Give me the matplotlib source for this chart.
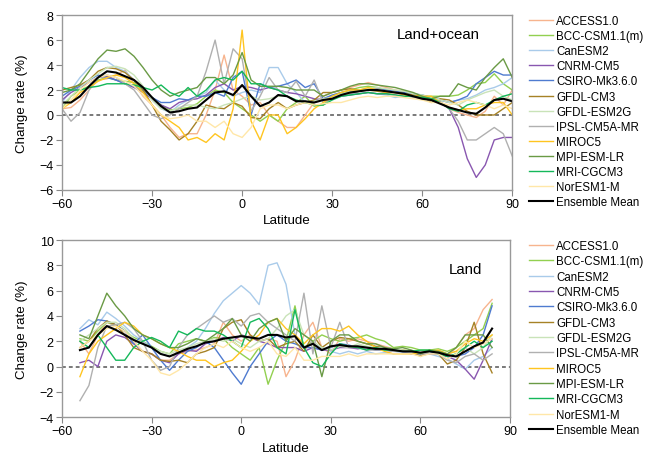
"""
Zonal change rate of each CMIP5 model, land+ocean and land only.
"""

import matplotlib.pyplot as plt
import numpy as np

plt.rcParams['font.family'] = ['Liberation Sans', 'DejaVu Sans']

models = ['ACCESS1.0', 'BCC-CSM1.1(m)', 'CanESM2', 'CNRM-CM5', 'CSIRO-Mk3.6.0',
          'GFDL-CM3', 'GFDL-ESM2G', 'IPSL-CM5A-MR', 'MIROC5', 'MPI-ESM-LR',
          'MRI-CGCM3', 'NorESM1-M']
colors = ['#F7B48E', '#92D050', '#A9CBEA', '#8957B0', '#4F7BD0', '#A68226',
          '#C9E3B8', '#B0B0B0', '#FFC520', '#6A9A45', '#14B85A', '#FFE7A8']

# latitudes, 3 degree steps
lat_lo = np.arange(-60, 91, 3)
lat_land = np.arange(-54, 85, 3)

# ---- land+ocean ----
lo = {
    'ACCESS1.0': [0.5, 0.6, 1.2, 2.0, 2.8, 2.9, 3.2, 3.6, 2.5, 1.5, 0.8, 0.0, -1.0, -1.8, -1.5, -1.5, 0.0, 2.0, 4.8, 2.0, 1.5, 0.8, 1.0, 0.0, -0.5, -1.0, -1.0, 0.0, 1.0, 1.5, 1.8, 2.0, 2.2, 2.4, 2.6, 2.4, 2.2, 2.0, 1.9, 1.6, 1.4, 1.2, 1.0, 0.5, 0.2, 0.0, -0.2, 0.3, 1.5, 0.8, 2.0],
    'BCC-CSM1.1(m)': [0.5, 1.5, 2.0, 2.3, 2.8, 3.0, 2.8, 2.7, 2.6, 2.0, 1.4, 0.8, 0.4, 0.5, 0.6, 0.9, 1.5, 2.0, 1.8, 1.0, 0.5, 0.0, -0.5, 0.0, -0.5, 0.5, 1.0, 1.5, 0.7, 0.8, 1.5, 1.8, 2.0, 2.2, 2.3, 2.2, 2.0, 1.9, 1.8, 1.7, 1.5, 1.5, 1.5, 1.5, 1.6, 2.0, 2.5, 2.6, 3.3, 2.5, 2.0],
    'CanESM2': [1.0, 2.0, 3.0, 3.8, 4.3, 4.3, 3.8, 3.5, 2.8, 2.0, 1.2, 0.5, 0.2, 0.8, 1.2, 1.5, 1.8, 2.8, 2.0, 1.5, 1.8, 2.0, 1.8, 3.8, 3.8, 2.5, 1.8, 1.0, 1.2, 1.3, 1.5, 1.6, 1.7, 1.7, 1.8, 1.7, 1.6, 1.4, 1.5, 1.5, 1.3, 1.3, 1.2, 1.0, 1.2, 1.3, 1.6, 2.0, 2.2, 2.5, 3.0],
    'CNRM-CM5': [1.2, 1.8, 2.2, 2.6, 3.0, 3.1, 2.8, 2.5, 2.2, 1.8, 1.3, 0.8, 0.5, 1.0, 1.2, 1.3, 1.6, 2.2, 2.5, 2.0, 2.3, 2.2, 2.0, 2.2, 2.0, 1.8, 1.7, 1.5, 1.3, 1.2, 1.4, 1.5, 1.6, 1.7, 1.8, 1.7, 1.7, 1.6, 1.5, 1.5, 1.4, 1.3, 1.0, 0.5, -1.0, -3.5, -5.0, -4.0, -2.0, -1.8, -1.8],
    'CSIRO-Mk3.6.0': [1.5, 2.0, 2.3, 2.8, 3.2, 3.0, 2.8, 2.5, 2.3, 1.9, 1.4, 1.0, 1.0, 1.3, 1.2, 1.5, 1.5, 1.8, 1.5, 3.0, 3.5, 0.0, 2.5, 2.2, 2.3, 2.5, 2.8, 2.2, 2.5, 1.3, 1.6, 1.8, 1.9, 2.0, 2.0, 2.1, 2.0, 1.9, 1.8, 1.7, 1.6, 1.4, 1.2, 1.0, 1.2, 1.5, 2.5, 3.0, 3.5, 3.2, 3.2],
    'GFDL-CM3': [2.0, 2.2, 2.4, 2.8, 3.5, 3.8, 3.7, 3.4, 2.8, 2.0, 0.8, -0.5, -1.2, -2.0, -1.5, -0.5, 0.8, 0.6, 0.5, 1.0, 0.7, -0.2, -0.3, 0.5, 1.0, 0.5, 0.8, 1.0, 1.2, 1.8, 1.8, 2.0, 2.1, 2.0, 2.0, 1.9, 1.8, 1.8, 1.7, 1.6, 1.5, 1.0, 1.3, 1.2, 0.8, 0.3, 0.0, 0.0, 0.0, 0.5, 1.0],
    'GFDL-ESM2G': [0.8, 1.5, 2.2, 2.8, 3.3, 3.8, 3.9, 3.7, 3.2, 2.3, 1.2, 0.5, 0.3, 0.6, 0.8, 0.8, 0.6, 0.5, 0.8, 1.0, 1.3, 1.5, 1.2, 1.3, 1.5, 1.5, 1.2, 1.0, 1.1, 1.3, 1.4, 1.7, 1.9, 2.0, 2.1, 2.2, 2.1, 2.0, 1.9, 1.7, 1.6, 1.4, 1.2, 1.0, 0.8, 1.2, 1.5, 1.8, 2.0, 1.5, 1.2],
    'IPSL-CM5A-MR': [0.5, -0.5, 0.2, 2.0, 3.0, 3.2, 3.0, 2.5, 2.0, 1.0, 0.0, -0.3, 0.0, 0.5, 1.0, 1.5, 3.5, 6.0, 2.5, 5.3, 4.5, 0.3, 1.5, 3.0, 2.0, 1.8, 2.7, 1.5, 2.8, 1.0, 1.3, 1.5, 1.7, 1.9, 2.0, 2.1, 1.9, 1.8, 1.6, 1.4, 1.3, 1.2, 1.1, 0.5, -0.5, -2.0, -2.0, -1.5, -1.0, -1.5, -3.3],
    'MIROC5': [0.5, 1.0, 1.8, 2.2, 2.7, 3.0, 3.2, 3.0, 2.5, 1.8, 0.8, 0.0, -0.5, -1.0, -2.0, -1.8, -2.2, -1.5, -2.0, 0.5, 6.8, -0.5, -2.0, 0.0, 0.0, -1.5, -1.0, -0.3, 0.5, 1.0, 1.5, 1.8, 2.0, 2.0, 2.2, 2.0, 1.8, 1.8, 1.6, 1.5, 1.5, 1.5, 1.0, 0.6, 0.4, 0.5, 0.5, 0.8, 1.0, 1.0, 0.0],
    'MPI-ESM-LR': [1.8, 2.0, 2.5, 3.5, 4.5, 5.2, 5.1, 5.3, 4.7, 3.8, 2.8, 2.0, 1.5, 1.8, 2.0, 2.2, 3.0, 3.0, 2.5, 3.2, 5.0, 2.8, 2.3, 2.3, 2.3, 2.2, 2.0, 2.0, 2.0, 1.5, 1.8, 2.0, 2.3, 2.5, 2.5, 2.4, 2.3, 2.2, 2.0, 1.8, 1.5, 1.3, 1.5, 1.5, 2.5, 2.2, 2.0, 3.0, 3.8, 4.5, 3.0],
    'MRI-CGCM3': [2.2, 2.0, 2.0, 2.2, 2.3, 2.5, 2.5, 2.5, 2.4, 2.2, 2.0, 2.4, 1.8, 1.5, 2.2, 1.5, 2.0, 2.8, 3.0, 2.8, 3.5, 2.5, 2.5, 2.2, 2.0, 1.5, 1.2, 1.0, 0.8, 0.8, 1.2, 1.5, 1.6, 1.7, 1.8, 1.7, 1.7, 1.6, 1.5, 1.5, 1.4, 1.3, 1.0, 0.5, 0.3, 0.8, 1.0, 0.8, 1.2, 1.5, 1.7],
    'NorESM1-M': [0.5, 1.2, 2.0, 2.6, 3.0, 3.2, 3.0, 2.7, 2.3, 1.6, 0.8, 0.0, -0.3, -0.2, 0.0, -0.5, -0.5, -1.0, -0.5, -1.5, -1.8, -1.0, 0.5, 0.8, 0.8, 0.5, 0.8, 1.0, 0.8, 0.9, 1.0, 1.0, 1.2, 1.4, 1.5, 1.4, 1.5, 1.5, 1.4, 1.3, 1.2, 1.0, 1.0, 0.8, 1.0, 1.2, 1.0, 0.8, 0.5, 0.8, 0.5],
}
mean_lo = [1.0, 1.0, 1.5, 2.3, 3.0, 3.5, 3.4, 3.1, 2.8, 2.2, 1.4, 0.7, 0.2, 0.3, 0.5, 0.6, 1.2, 1.8, 1.9, 1.6, 2.4, 1.5, 0.7, 1.0, 1.6, 1.5, 1.1, 1.1, 1.0, 1.2, 1.3, 1.6, 1.8, 1.9, 2.0, 2.0, 1.9, 1.8, 1.7, 1.5, 1.3, 1.2, 0.9, 0.6, 0.4, 0.2, 0.1, 0.6, 1.2, 1.3, 1.1]

# ---- land only ----
land = {
    'ACCESS1.0': [2.0, 1.0, 2.5, 3.5, 3.2, 2.8, 2.0, 1.2, 1.0, 0.5, 0.5, 1.0, 1.2, 1.3, 1.5, 1.8, 3.5, 2.5, 2.0, 2.5, 2.0, 2.2, 2.0, -0.8, 0.5, 2.5, 3.5, 1.5, 1.0, 2.2, 2.0, 2.2, 2.0, 1.8, 1.6, 1.4, 1.3, 1.2, 1.0, 1.3, 1.2, 0.8, 1.5, 2.5, 3.0, 4.5, 5.3],
    'BCC-CSM1.1(m)': [2.2, 2.0, 2.8, 3.5, 3.3, 2.8, 2.3, 2.0, 1.6, 1.2, 1.0, 1.8, 2.0, 2.2, 2.0, 2.3, 2.2, 1.5, 1.0, 0.5, 1.5, -1.4, 0.5, 2.0, 4.8, 1.5, 2.0, 2.5, 2.2, 2.0, 2.2, 2.3, 2.5, 2.2, 2.0, 1.5, 1.6, 1.5, 1.3, 1.3, 1.4, 1.2, 1.5, 2.0, 2.5, 3.0, 5.0],
    'CanESM2': [3.0, 3.7, 3.3, 4.3, 3.8, 3.2, 2.5, 2.0, 1.5, 1.0, 0.8, 1.0, 1.5, 2.0, 3.0, 4.2, 5.2, 5.8, 6.4, 5.8, 4.9, 8.0, 8.2, 6.5, 2.5, 1.5, 1.8, 1.5, 1.2, 1.0, 1.2, 1.0, 1.2, 1.0, 1.1, 1.0, 1.1, 1.0, 0.9, 1.0, 0.8, 0.6, 0.2, -0.2, 0.5, 0.8, 1.5],
    'CNRM-CM5': [0.3, 0.5, 0.0, 2.0, 2.5, 2.3, 1.8, 1.2, 1.0, 0.5, 0.3, 1.0, 1.3, 1.2, 1.8, 2.0, 2.3, 2.0, 2.5, 2.3, 2.0, 1.8, 1.5, 1.5, 1.5, 1.2, 1.5, 1.3, 1.3, 1.5, 1.5, 1.4, 1.5, 1.3, 1.3, 1.2, 1.2, 1.0, 0.9, 1.0, 1.0, 0.8, 0.5, -0.2, -1.0, 0.5, 2.2],
    'CSIRO-Mk3.6.0': [2.8, 3.2, 3.7, 3.6, 3.3, 2.8, 1.8, 2.5, 1.5, 0.5, -0.3, 0.5, 1.2, 1.5, 2.0, 1.5, 0.5, -0.5, -1.4, 0.0, 1.0, 2.0, 2.5, 2.0, 1.8, 1.5, 1.5, 1.3, 1.5, 1.8, 1.7, 1.5, 1.5, 1.3, 1.3, 1.3, 1.2, 1.1, 1.0, 1.2, 1.0, 0.8, 0.8, 1.0, 1.5, 2.5, 4.8],
    'GFDL-CM3': [1.5, 2.0, 3.0, 3.6, 3.3, 2.5, 1.5, 1.2, 1.0, 0.5, 0.4, 0.5, 0.3, 1.0, 1.2, 1.5, 3.0, 3.5, 3.7, 2.5, 2.0, 2.2, 1.5, 1.8, 2.0, 1.2, 2.5, 1.5, 2.0, 2.3, 2.2, 2.0, 1.8, 1.6, 1.5, 1.2, 1.3, 1.2, 0.8, 1.3, 1.0, 0.2, 0.5, 1.5, 3.5, 1.0, -0.5],
    'GFDL-ESM2G': [2.0, 2.5, 3.0, 3.5, 3.5, 3.0, 2.2, 1.8, 1.5, 1.2, 1.0, 1.3, 1.5, 1.8, 2.0, 2.2, 2.0, 2.2, 1.8, 1.5, 2.0, 2.2, 3.0, 4.0, 4.5, 2.5, 2.0, 1.5, 1.3, 1.6, 1.5, 1.8, 1.6, 1.5, 1.5, 1.4, 1.3, 1.2, 1.0, 1.2, 1.3, 1.0, 1.2, 1.5, 1.0, 1.5, 2.5],
    'IPSL-CM5A-MR': [-2.7, -1.5, 1.5, 3.2, 3.3, 3.5, 3.0, 2.0, 0.5, -0.3, 0.0, 1.5, 2.5, 3.0, 3.5, 4.0, 3.5, 3.8, 3.2, 4.0, 4.2, 3.5, 3.0, 2.5, 2.0, 5.8, 1.0, 4.8, 1.5, 3.5, 1.5, 1.5, 1.3, 1.3, 1.3, 1.2, 1.2, 1.1, 1.0, 1.0, 1.0, 0.5, 0.3, 0.8, 1.0, 0.5, 1.0],
    'MIROC5': [-0.8, 1.0, 2.0, 2.5, 3.0, 3.5, 3.2, 2.5, 2.2, 1.8, 1.5, 1.2, 0.8, 0.5, 0.5, 0.0, 0.3, 0.5, 1.2, 2.0, 2.5, 3.5, 3.8, 3.0, 2.5, 1.8, 2.5, 3.0, 3.0, 2.8, 3.2, 2.5, 2.0, 1.5, 1.2, 1.0, 1.0, 1.0, 1.1, 1.2, 1.3, 1.0, 1.2, 1.8, 2.2, 2.0, 2.5],
    'MPI-ESM-LR': [2.5, 2.2, 4.0, 5.8, 4.8, 4.0, 3.0, 2.5, 2.2, 1.8, 1.5, 1.5, 1.8, 2.2, 2.0, 2.5, 3.0, 3.8, 2.5, 2.0, 3.0, 3.5, 3.8, 2.0, 3.0, 2.5, 2.0, -0.8, 2.0, 2.5, 2.5, 2.0, 1.8, 1.8, 1.5, 1.4, 1.5, 1.3, 1.0, 1.3, 1.2, 1.0, 1.5, 2.5, 2.5, 2.5, 1.5],
    'MRI-CGCM3': [2.0, 1.5, 2.5, 1.5, 0.5, 0.5, 1.5, 2.0, 2.3, 2.0, 1.5, 2.8, 2.5, 3.0, 2.8, 2.8, 2.5, 2.0, 1.5, 3.5, 3.8, 3.0, 1.5, 1.0, 4.5, 1.5, 0.3, 0.0, 1.0, 1.8, 1.6, 1.5, 1.3, 1.5, 1.3, 1.3, 1.2, 1.2, 1.3, 1.3, 1.0, 0.8, 1.0, 1.5, 2.0, 1.5, 2.0],
    'NorESM1-M': [1.5, 2.0, 2.5, 3.0, 3.2, 2.8, 2.0, 1.2, 0.5, -0.5, -0.7, -0.3, 0.3, 1.0, 1.5, 1.8, 1.5, 2.0, 1.5, 1.2, 1.5, 2.0, 1.0, 0.8, 1.5, 0.5, 0.5, 0.8, 0.8, 0.8, 1.0, 0.8, 1.0, 1.0, 1.0, 1.0, 1.0, 1.0, 0.8, 1.0, 1.0, 0.6, 1.0, 2.0, 1.5, 1.8, 2.2],
}
mean_land = [1.3, 1.5, 2.5, 3.2, 2.9, 2.5, 2.1, 1.8, 1.5, 1.0, 0.8, 1.1, 1.4, 1.6, 1.9, 2.0, 2.2, 2.3, 2.4, 2.3, 2.2, 2.5, 2.5, 2.3, 2.4, 1.5, 1.8, 1.3, 1.6, 1.7, 1.6, 1.6, 1.5, 1.4, 1.4, 1.3, 1.2, 1.2, 1.1, 1.2, 1.1, 0.9, 0.8, 1.2, 1.6, 1.9, 3.0]

fig = plt.figure(figsize=(6.46, 4.60), dpi=100)
ax1 = fig.add_axes([0.096, 0.585, 0.697, 0.380])
ax2 = fig.add_axes([0.096, 0.091, 0.6935, 0.385])

def panel(ax, lat, series, mean, ylim, title, title_xy, leg_y, spacing):
    for name, c in zip(models, colors):
        ax.plot(lat, series[name], color=c, lw=1.0, label=name)
    ax.plot(lat, mean, color='black', lw=1.5, label='Ensemble Mean')
    ax.axhline(0, color='#555555', ls=(0, (2.5, 2)), lw=1.1, zorder=0)

    ax.set_xlim(-60, 90)
    ax.set_ylim(*ylim)
    ax.set_xticks(np.arange(-60, 91, 30))
    ax.set_yticks(np.arange(ylim[0], ylim[1] + 1, 2))
    ax.set_xlabel('Latitude', fontsize=9.6, labelpad=3)
    ax.set_ylabel('Change rate (%)', fontsize=9.6, labelpad=8)
    ax.tick_params(direction='out', length=4, color='#888888', labelsize=9, pad=2)
    for s in ax.spines.values():
        s.set_color('#999999')
        s.set_linewidth(1.0)
    ax.text(*title_xy, title, transform=ax.transAxes, fontsize=10.8, ha='center', va='center')

    ax.legend(loc='upper left', bbox_to_anchor=(529 / 646, leg_y), bbox_transform=fig.transFigure,
              frameon=False, fontsize=8.3, handlelength=2.1, handletextpad=0.25,
              labelspacing=spacing, borderpad=0, borderaxespad=0)

panel(ax1, lat_lo, lo, mean_lo, (-6, 8), 'Land+ocean', (0.836, 0.891), 1 - 16 / 460, 0.27)
panel(ax2, lat_land, land, mean_land, (-4, 10), 'Land', (0.90, 0.836), 1 - 241 / 460, 0.29)

fig.savefig('out.png', dpi=100)
